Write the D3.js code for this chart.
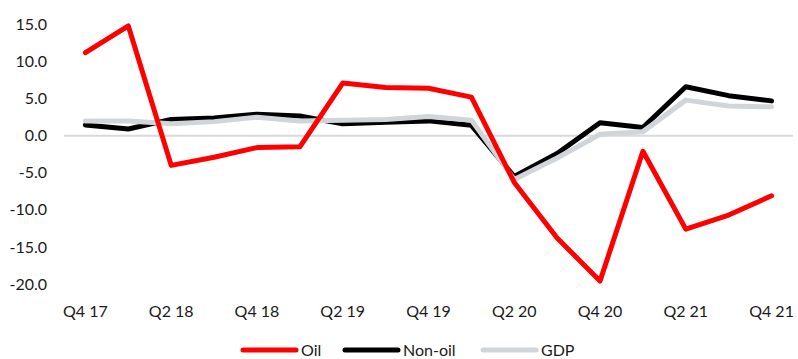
<!DOCTYPE html>
<html>
<head>
<meta charset="utf-8">
<script src="https://cdn.jsdelivr.net/npm/d3@7"></script>
<style>
  body { margin: 0; background: #fff; }
  svg { display: block; font-family: Lato, "Open Sans", sans-serif; }
</style>
</head>
<body>
<svg width="798" height="359"></svg>
<script>
const quarters = ["Q4 17", "Q1 18", "Q2 18", "Q3 18", "Q4 18", "Q1 19", "Q2 19", "Q3 19", "Q4 19",
    "Q1 20", "Q2 20", "Q3 20", "Q4 20", "Q1 21", "Q2 21", "Q3 21", "Q4 21"];
const oil = [11.2, 14.8, -4.0, -2.9, -1.6, -1.5, 7.1, 6.5, 6.4, 5.2, -6.3, -13.8, -19.6, -2.1, -12.6, -10.7, -8.1];
const nonOil = [1.45, 0.9, 2.2, 2.4, 2.9, 2.65, 1.6, 1.8, 2.0, 1.4, -5.5, -2.4, 1.75, 1.1, 6.6, 5.4, 4.7];
const gdp = [2.0, 2.0, 1.6, 1.9, 2.5, 2.0, 2.1, 2.2, 2.6, 2.1, -5.9, -3.0, 0.2, 0.55, 4.8, 4.0, 3.9];
const yTicks = [15, 10, 5, 0, -5, -10, -15, -20];
const xTickLabels = quarters.filter((d, i) => i % 2 === 0);

const series = [
    { name: "Oil", values: oil, color: "#ff0000" },
    { name: "Non-oil", values: nonOil, color: "#000000" },
    { name: "GDP", values: gdp, color: "#d1d5d9" }
];

const svg = d3.select("svg");

const scaleX = d3.scaleBand()
    .domain(quarters)
    .range([64, 793]);

const scaleY = d3.scaleLinear()
    .domain([-20, 15])
    .range([284, 24.5]);

// y labels
svg.append("g")
    .selectAll("text")
    .data(yTicks)
    .enter()
    .append("text")
    .attr("x", 47)
    .attr("y", d => scaleY(d))
    .attr("dy", "0.35em")
    .attr("text-anchor", "end")
    .style("font-size", "16px")
    .style("fill", "#1a1a1a")
    .text(d => d.toFixed(1));

// x labels
svg.append("g")
    .selectAll("text")
    .data(xTickLabels)
    .enter()
    .append("text")
    .attr("x", d => scaleX(d) + scaleX.bandwidth() / 2)
    .attr("y", 317)
    .attr("text-anchor", "middle")
    .style("font-size", "16px")
    .style("fill", "#1a1a1a")
    .text(d => d);

// zero line
svg.append("line")
    .attr("x1", scaleX.range()[0])
    .attr("x2", scaleX.range()[1])
    .attr("y1", scaleY(0))
    .attr("y2", scaleY(0))
    .style("stroke", "#d9d9d9")
    .attr("stroke-width", 2);

const lineGenerator = d3.line()
    .x((d, i) => scaleX(quarters[i]) + scaleX.bandwidth() / 2)
    .y(d => scaleY(d));

// draw order: black, grey, red
[series[1], series[2], series[0]].forEach(s => {
    svg.append("path")
        .datum(s.values)
        .attr("fill", "none")
        .style("stroke", s.color)
        .attr("stroke-width", 5)
        .attr("stroke-linejoin", "round")
        .attr("stroke-linecap", "round")
        .attr("d", lineGenerator);
});

// legend
const legendX = [243, 345, 483];
const legend = svg.append("g");
series.forEach((s, i) => {
    legend.append("line")
        .attr("x1", legendX[i])
        .attr("x2", legendX[i] + 53)
        .attr("y1", 350)
        .attr("y2", 350)
        .style("stroke", s.color)
        .attr("stroke-width", 5)
        .attr("stroke-linecap", "round");
    legend.append("text")
        .attr("x", legendX[i] + 58)
        .attr("y", 350)
        .attr("dy", "0.35em")
        .style("font-size", "16px")
        .style("fill", "#1a1a1a")
        .text(s.name);
});
</script>
</body>
</html>
